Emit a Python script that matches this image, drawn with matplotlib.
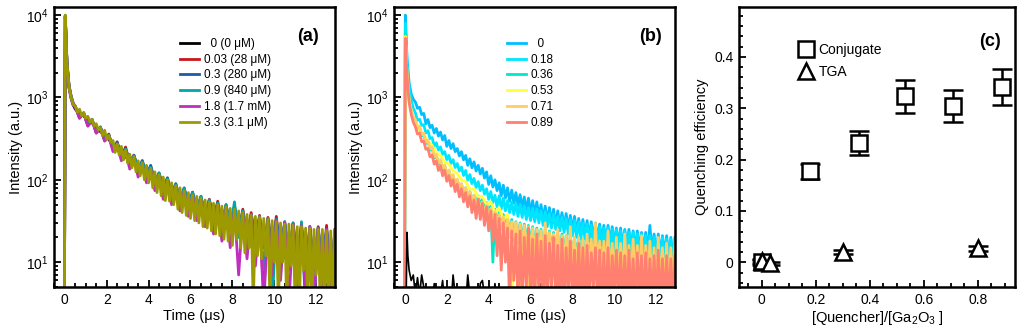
import numpy as np
import matplotlib
matplotlib.use("Agg")
import matplotlib.pyplot as plt
from matplotlib.lines import Line2D
from matplotlib.ticker import MultipleLocator, LogLocator, NullFormatter, FuncFormatter

plt.rcParams["font.family"] = ["Liberation Sans", "DejaVu Sans"]
plt.rcParams["mathtext.fontset"] = "custom"
plt.rcParams["mathtext.rm"] = "Liberation Sans"
plt.rcParams["mathtext.it"] = "Liberation Sans:italic"

# ---- time grids (instrument sampling) ----
t_head = [-0.02, 0.02, 0.1, 0.2, 0.3, 0.4]
t_coarse = np.round(np.arange(0.5, 12.95, 0.2), 2)   # 63 points
t_fine = np.round(np.arange(0.5, 12.95, 0.1), 2)     # 125 points

# ---- panel (a): decays for each quencher ratio ----
a_labels = ["  0 (0 \u03bcM)", "0.03 (28 \u03bcM)", "0.3 (280 \u03bcM)",
            "0.9 (840 \u03bcM)", "1.8 (1.7 mM)", "3.3 (3.1 \u03bcM)"]
a_colors = ["#000000", "#C8161D", "#1F5AA8", "#00A6A6", "#C02EC0", "#9C9A00"]

a_black_head = [3, 9500, 2550, 1320, 980, 810]
a_black = [720, 655, 600, 545, 490, 440, 385, 350, 312, 255,
           232, 210, 190, 170, 154, 138, 126, 117, 105, 94,
           86, 78, 74, 68, 61, 57, 52, 49, 46, 43,
           40, 38, 36, 34, 32, 30, 29, 27, 29, 25,
           23, 24, 22, 21, 20, 20, 19, 18, 18, 17,
           17, 16, 16, 15, 15, 15, 15, 14, 14, 14,
           14, 14, 14]
a_red_head = [3, 9800, 2700, 1400, 1040, 850]
a_red = [780, 560, 650, 450, 545, 370, 440, 300, 360, 235,
         290, 190, 250, 160, 200, 130, 165, 112, 145, 92,
         118, 78, 104, 66, 88, 55, 78, 48, 70, 42,
         62, 36, 58, 32, 55, 28, 50, 26, 47, 22,
         44, 20, 40, 17, 37, 15, 35, 14, 36, 12,
         31, 11, 30, 10, 28, 9, 27, 8, 27, 7,
         28, 6, 25]
a_blue_head = [3, 9700, 2650, 1380, 1030, 840]
a_blue = [770, 580, 640, 470, 530, 380, 430, 310, 350, 240,
          280, 195, 238, 165, 198, 135, 172, 115, 150, 95,
          122, 80, 106, 68, 90, 56, 80, 49, 71, 43,
          63, 37, 57, 33, 53, 29, 49, 27, 48, 23,
          42, 21, 38, 18, 36, 4, 34, 15, 33, 13,
          30, 12, 29, 11, 29, 3, 27, 9, 26, 8,
          25, 7, 24]
a_teal_head = [3, 9900, 2600, 1360, 1010, 830]
a_teal = [775, 570, 655, 460, 540, 375, 435, 305, 350, 238,
          275, 192, 235, 162, 196, 132, 165, 113, 142, 93,
          120, 76, 102, 64, 87, 53, 79, 46, 70, 40,
          63, 34, 57, 30, 52, 26, 50, 24, 54, 20,
          42, 16, 38, 12, 36, 8, 34, 3, 33, 9,
          31, 8, 30, 3, 31, 7, 27, 3, 26, 6,
          25, 5, 24]
a_magenta_head = [3, 9600, 2500, 1300, 970, 800]
a_magenta = [760, 560, 630, 450, 520, 370, 420, 295, 330, 220,
             260, 170, 220, 135, 185, 108, 155, 92, 135, 74,
             112, 58, 98, 50, 84, 42, 74, 36, 66, 32,
             58, 27, 54, 22, 50, 18, 46, 15, 44, 7,
             40, 11, 37, 9, 35, 3, 33, 7, 32, 6,
             30, 3, 29, 5, 28, 4, 27, 3, 26, 4,
             25, 3, 24]
a_olive_head = [3, 10000, 2600, 1350, 1000, 820]
a_olive = [790, 660, 720, 600, 650, 560, 590, 505, 540, 450,
           480, 400, 430, 345, 400, 310, 345, 285, 300, 215,
           270, 200, 255, 175, 230, 160, 205, 140, 190, 125,
           170, 112, 160, 100, 150, 92, 138, 80, 125, 70,
           115, 64, 108, 56, 100, 55, 92, 50, 85, 44,
           80, 40, 74, 37, 70, 34, 66, 32, 63, 30,
           60, 27, 57, 26, 54, 24, 52, 22, 50, 21,
           48, 19, 47, 18, 45, 16, 44, 19, 42, 15,
           40, 13, 38, 15, 37, 3, 36, 12, 35, 11,
           34, 12, 33, 3, 32, 10, 31, 3, 30, 10,
           29, 3, 29, 9, 28, 3, 27, 3, 27, 8,
           26, 3, 26, 3, 25, 7, 25, 3, 25, 3,
           24, 3, 24, 3, 24]

# ---- panel (b) ----
b_labels = ["  0", "0.18", "0.36", "0.53", "0.71", "0.89"]
b_colors = ["#00BFFF", "#00E5FF", "#00E8C8", "#FFFF40", "#FFCC66", "#FF8070"]

b_sky_head = [3, 10000, 3000, 1500, 1100, 950]
b_sky = [880, 740, 760, 620, 640, 480, 540, 430, 460, 370,
         420, 340, 380, 305, 345, 255, 300, 240, 275, 220,
         240, 195, 220, 175, 198, 150, 180, 140, 165, 128,
         150, 118, 138, 105, 125, 88, 112, 82, 100, 74,
         92, 64, 86, 60, 80, 55, 75, 52, 70, 48,
         66, 46, 62, 42, 60, 40, 56, 38, 54, 35,
         50, 33, 48, 31, 46, 30, 44, 28, 42, 27,
         40, 26, 39, 25, 37, 24, 36, 23, 34, 22,
         33, 21, 32, 20, 31, 19, 30, 18, 29, 18,
         28, 17, 28, 17, 27, 16, 26, 16, 26, 15,
         25, 15, 25, 14, 24, 14, 24, 14, 23, 13,
         23, 13, 28, 13, 22, 12, 22, 12, 21, 12,
         21, 11, 20, 11, 20]
b_cyan_head = [3, 8000, 2700, 1300, 920, 740]
b_cyan = [650, 528, 545, 458, 466, 370, 396, 317, 326, 255,
          282, 230, 251, 204, 220, 176, 198, 158, 176, 141,
          158, 128, 143, 113, 130, 99, 116, 90, 104, 81,
          95, 74, 86, 67, 78, 58, 72, 53, 65, 47,
          64, 44, 60, 42, 56, 40, 54, 38, 52, 36,
          50, 35, 48, 33, 46, 32, 45, 31, 44, 30,
          42, 28, 41, 27, 39, 26, 38, 25, 36, 24,
          35, 23, 34, 22, 33, 21, 32, 20, 31, 19,
          30, 19, 29, 18, 28, 17, 28, 17, 27, 16,
          26, 16, 26, 15, 25, 15, 25, 14, 24, 14,
          24, 14, 23, 13, 23, 13, 22, 13, 22, 12,
          21, 12, 21, 12, 20, 11, 20, 11, 20, 11,
          19, 11, 19, 10, 19]
b_turq_head = [3, 6000, 1900, 950, 680, 560]
b_turq = [515, 405, 432, 340, 359, 276, 294, 230, 241, 184,
          198, 156, 170, 133, 147, 116, 129, 101, 112, 88,
          100, 80, 89, 70, 80, 61, 72, 56, 65, 50,
          64, 48, 58, 43, 53, 38, 48, 10, 44, 30,
          40, 27, 38, 24, 35, 22, 33, 20, 31, 19,
          30, 18, 29, 17, 28, 16, 27, 15, 26, 15,
          25, 14, 24, 14, 24, 13, 23, 13, 22, 12,
          22, 12, 21, 12, 21, 11, 20, 11, 20, 11,
          19, 10, 19, 10, 19, 10, 18, 10, 18, 9,
          18, 9, 17, 9, 17, 9, 17, 9, 17, 8,
          16, 8, 16, 8, 16, 8, 16, 8, 15, 8,
          15, 8, 15, 7, 15, 7, 15, 7, 14, 7,
          14, 7, 14, 7, 14]
b_yellow_head = [3, 5500, 1900, 950, 700, 570]
b_yellow = [520, 400, 360, 290, 262, 212, 198, 165, 155, 128,
            120, 100, 95, 77, 77, 62, 63, 50, 54, 40,
            46, 33, 38, 3, 30, 4, 25, 3, 22, 12,
            20, 3, 18, 10, 17, 3, 16, 9, 15, 3,
            15, 8, 14, 3, 14, 7, 13, 3, 13, 6,
            13, 3, 12, 6, 12, 3, 12, 5, 11, 3,
            11, 5, 11]
b_orange_head = [3, 5300, 1850, 930, 690, 580]
b_orange = [540, 420, 450, 350, 370, 285, 305, 238, 250, 190,
            205, 160, 176, 138, 152, 118, 132, 104, 116, 90,
            102, 80, 90, 70, 80, 61, 72, 55, 65, 49,
            59, 44, 54, 39, 49, 35, 45, 31, 41, 28,
            38, 25, 35, 22, 33, 20, 31, 18, 30, 17,
            29, 15, 28, 14, 27, 13, 26, 12, 25, 12,
            24, 11, 30, 11, 23, 10, 22, 10, 25, 9,
            21, 9, 21, 9, 27, 8, 20, 8, 20, 8,
            19, 8, 22, 7, 19, 7, 30, 7, 18, 7,
            18, 7, 24, 6, 17, 6, 20, 6, 17, 6,
            22, 6, 16, 6, 19, 5, 16, 5, 21, 5,
            16, 5, 18, 5, 15, 5, 20, 5, 15, 5,
            17, 5, 15, 5, 18]
b_salmon_head = [3, 5200, 1800, 880, 620, 500]
b_salmon = [440, 360, 370, 290, 295, 235, 240, 190, 200, 155,
            170, 130, 148, 112, 130, 96, 112, 84, 100, 72,
            88, 62, 78, 54, 70, 47, 64, 40, 57, 34,
            58, 33, 52, 28, 47, 24, 42, 18, 38, 12,
            34, 8, 30, 10, 26, 3, 24, 6, 22, 3,
            24, 3, 20, 5, 26, 3, 19, 3, 22, 4,
            18, 3, 21, 3, 17, 5, 20, 3, 16, 3,
            19, 3, 15, 4, 18, 3, 14, 3, 17, 3,
            15, 3, 16, 3, 13, 5, 15, 3, 14, 3,
            13, 3, 15, 3, 12, 4, 14, 3, 13, 3,
            12, 3, 14, 3, 11, 3, 13, 4, 12, 3,
            13, 3, 11, 3, 12, 3, 14, 3, 11, 3,
            12, 3, 11, 3, 12]

# background trace (black) in (b)
b_bg_t = [0.0, 0.06, 0.1, 0.14, 0.2, 0.3, 0.4, 0.5, 0.6, 0.7, 0.8, 0.9,
          1.0, 1.1, 1.2, 1.3, 1.4, 1.5, 1.6, 1.7, 1.8, 1.9, 2.0, 2.1, 2.2,
          2.3, 2.4, 2.5, 2.6, 2.7, 2.8, 2.9, 3.0, 3.1, 3.2, 3.3, 3.4, 3.5,
          3.6, 3.7, 3.8, 3.9, 4.0, 4.1, 4.2, 4.3, 4.4, 4.5, 4.6]
b_bg = [3, 4, 23, 12, 8, 6, 7, 4, 6.5, 4, 7, 5, 4, 3, 4, 3, 5.5, 4, 3, 4,
        6, 3, 4, 3, 3, 7, 4, 3, 3, 4, 3, 3, 7, 4, 3, 3, 4, 3, 5.5, 6,
        4, 3, 3, 4, 3, 5.5, 3, 4, 3]

# ---- panel (c) ----
ratio_conj = [0.0, 0.18, 0.36, 0.53, 0.71, 0.89]
qe_conj = [0.0, 0.177, 0.233, 0.323, 0.304, 0.342]
err_conj = [0.006, 0.014, 0.023, 0.032, 0.031, 0.035]
ratio_tga = [0.0, 0.03, 0.30, 0.80]
qe_tga = [0.002, -0.002, 0.020, 0.027]
err_tga = [0.003, 0.003, 0.004, 0.004]


def style_axis(ax):
    for sp in ax.spines.values():
        sp.set_linewidth(1.8)
    ax.tick_params(which="both", direction="in", top=False, right=False,
                   labelsize=10, width=1.3)
    ax.tick_params(which="major", length=5, pad=4)
    ax.tick_params(which="minor", length=3)


def style_decay(ax):
    ax.set_yscale("log")
    ax.set_xlim(-0.52, 12.9)
    ax.set_ylim(5, 12500)
    ax.xaxis.set_major_locator(MultipleLocator(2))
    ax.xaxis.set_minor_locator(MultipleLocator(0.5))
    ax.yaxis.set_minor_locator(LogLocator(base=10, subs=np.arange(2, 10)))
    ax.yaxis.set_minor_formatter(NullFormatter())
    ax.set_xlabel("Time (\u03bcs)", fontsize=10.5, labelpad=2)
    ax.set_ylabel("Intensity (a.u.)", fontsize=10.5, labelpad=2)
    style_axis(ax)


fig = plt.figure(figsize=(10.24, 3.34), dpi=100)

# (a)
ax_a = fig.add_axes([0.0527, 0.1407, 0.2744, 0.838])
a_heads = [a_black_head, a_red_head, a_blue_head, a_teal_head, a_magenta_head]
a_tails = [a_black, a_red, a_blue, a_teal, a_magenta]
for head, tail, col in zip(a_heads, a_tails, a_colors[:5]):
    ax_a.plot(np.concatenate([t_head, t_coarse]), head + tail, color=col, lw=2)
ax_a.plot(np.concatenate([t_head, t_fine]), a_olive_head + a_olive,
          color=a_colors[5], lw=2)
style_decay(ax_a)
handles = [Line2D([], [], color=c, lw=2) for c in a_colors]
ax_a.legend(handles, a_labels, loc="upper left", bbox_to_anchor=(0.432, 0.907),
            frameon=False, fontsize=8.5, handlelength=1.6, handletextpad=0.4,
            labelspacing=0.32, borderaxespad=0)
ax_a.text(0.905, 0.895, "(a)", transform=ax_a.transAxes, fontsize=13,
          fontweight="bold", ha="center", va="center")

# (b)
ax_b = fig.add_axes([0.3848, 0.1407, 0.2744, 0.838])
b_fine = [(b_sky_head, b_sky), (b_cyan_head, b_cyan), (b_turq_head, b_turq)]
for (head, tail), col in zip(b_fine, b_colors[:3]):
    ax_b.plot(np.concatenate([t_head, t_fine]), head + tail, color=col, lw=2)
ax_b.plot(np.concatenate([t_head, t_coarse]), b_yellow_head + b_yellow,
          color=b_colors[3], lw=2)
ax_b.plot(np.concatenate([t_head, t_fine]), b_orange_head + b_orange,
          color=b_colors[4], lw=2)
ax_b.plot(np.concatenate([t_head, t_fine]), b_salmon_head + b_salmon,
          color=b_colors[5], lw=2)
ax_b.plot(b_bg_t, b_bg, color="black", lw=1.2)
style_decay(ax_b)
handles = [Line2D([], [], color=c, lw=2) for c in b_colors]
ax_b.legend(handles, b_labels, loc="upper left", bbox_to_anchor=(0.386, 0.907),
            frameon=False, fontsize=8.5, handlelength=1.6, handletextpad=0.4,
            labelspacing=0.32, borderaxespad=0)
ax_b.text(0.911, 0.895, "(b)", transform=ax_b.transAxes, fontsize=13,
          fontweight="bold", ha="center", va="center")

# (c)
ax_c = fig.add_axes([0.7217, 0.1407, 0.2695, 0.838])
ax_c.errorbar(ratio_conj, qe_conj, yerr=err_conj, fmt="none", ecolor="black",
              elinewidth=1.8, capsize=7, capthick=1.8, zorder=2)
ax_c.errorbar(ratio_tga, qe_tga, yerr=err_tga, fmt="none", ecolor="black",
              elinewidth=1.8, capsize=7, capthick=1.8, zorder=2)
ax_c.plot(ratio_conj, qe_conj, "s", ms=11, mfc="white", mec="black", mew=1.8,
          zorder=3)
ax_c.plot(ratio_tga, qe_tga, "^", ms=12, mfc="white", mec="black", mew=1.8,
          zorder=3)
ax_c.set_xlim(-0.084, 0.938)
ax_c.set_ylim(-0.048, 0.497)
ax_c.xaxis.set_major_locator(MultipleLocator(0.2))
ax_c.xaxis.set_minor_locator(MultipleLocator(0.05))
ax_c.yaxis.set_major_locator(MultipleLocator(0.1))
ax_c.yaxis.set_minor_locator(MultipleLocator(0.02))
fmt = FuncFormatter(lambda v, p: "%g" % round(v, 3))
ax_c.xaxis.set_major_formatter(fmt)
ax_c.yaxis.set_major_formatter(fmt)
ax_c.set_xlabel("[Quencher]/[Ga$_2$O$_3$ ]", fontsize=10.5, labelpad=2)
ax_c.set_ylabel("Quenching efficiency", fontsize=10.5, labelpad=4)
style_axis(ax_c)
c_handles = [Line2D([], [], ls="none", marker="s", ms=11, mfc="white",
                    mec="black", mew=1.8),
             Line2D([], [], ls="none", marker="^", ms=12, mfc="white",
                    mec="black", mew=1.8)]
ax_c.legend(c_handles, ["Conjugate", "TGA"], loc="upper left",
            bbox_to_anchor=(0.198, 0.893), frameon=False, fontsize=10,
            handlelength=1.0, handletextpad=0.4, labelspacing=0.6,
            borderaxespad=0)
ax_c.text(0.909, 0.876, "(c)", transform=ax_c.transAxes, fontsize=13,
          fontweight="bold", ha="center", va="center")

fig.savefig("out.png", dpi=100)
